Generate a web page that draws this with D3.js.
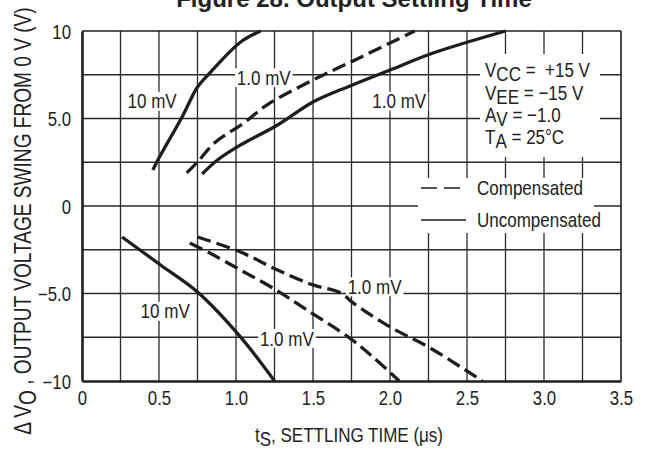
<!DOCTYPE html>
<html>
<head>
<meta charset="utf-8">
<script src="https://cdn.jsdelivr.net/npm/d3@7"></script>
<style>
  html, body { margin: 0; padding: 0; background: #fff; }
  svg { display: block; }
  text { font-family: 'Liberation Sans', Arial, Helvetica, sans-serif; fill: #222; }
</style>
</head>
<body>
<svg id="chart" width="646" height="449"></svg>
<script>
// ---------- data ----------
const xTickValues = [0, 0.5, 1.0, 1.5, 2.0, 2.5, 3.0, 3.5];
const xTickLabels = ["0", "0.5", "1.0", "1.5", "2.0", "2.5", "3.0", "3.5"];
const yTickValues = [-10, -5, 0, 5, 10];
const yTickLabels = ["\u221210", "\u22125.0", "0", "5.0", "10"];

// settling time (µs) vs output swing (V)
const pos10mVUncompX = [0.46, 0.51, 0.65, 0.75, 0.83, 1.03, 1.16];
const pos10mVUncompY = [2.06, 2.91, 5.09, 6.8, 7.6, 9.37, 10.0];

const pos1mVCompX = [0.68, 0.75, 0.86, 1.05, 1.2, 1.5, 1.76, 2.16];
const pos1mVCompY = [1.89, 2.51, 3.6, 4.74, 5.77, 7.2, 8.29, 10.0];

const pos1mVUncompX = [0.78, 0.88, 1.03, 1.27, 1.5, 1.74, 2.0, 2.28, 2.75];
const pos1mVUncompY = [1.83, 2.63, 3.49, 4.63, 5.94, 6.86, 7.77, 8.74, 10.0];

const neg10mVUncompX = [0.26, 0.51, 0.75, 1.03, 1.25];
const neg10mVUncompY = [-1.77, -3.37, -4.91, -7.49, -10.0];

const neg1mVCompAX = [0.70, 0.83, 1.03, 1.24, 1.46, 1.73, 1.89, 2.06];
const neg1mVCompAY = [-2.11, -2.69, -3.66, -4.69, -5.94, -7.49, -8.63, -10.0];

const neg1mVCompBX = [0.75, 1.03, 1.27, 1.5, 1.68, 1.76, 2.0, 2.26, 2.6];
const neg1mVCompBY = [-1.77, -2.63, -3.66, -4.51, -4.97, -5.54, -6.91, -8.11, -10.0];

const seriesNames = ["pos10mVUncomp", "pos1mVComp", "pos1mVUncomp", "neg10mVUncomp", "neg1mVCompA", "neg1mVCompB"];
const seriesDashed = [false, true, false, false, true, true];

const curveLabels = ["10 mV", "1.0 mV", "1.0 mV", "10 mV", "1.0 mV", "1.0 mV"];
const conditionLines = [["V", "CC", " =\u00A0 +15 V"], ["V", "EE", " = \u221215 V"], ["A", "V", " = \u22121.0"], ["T", "A", " = 25\u00B0C"]];
const legendLabels = ["Compensated", "Uncompensated"];

// ---------- layout ----------
const svg = d3.select("#chart");
const L = { left: 82, right: 621, top: 31, bottom: 381 };
const x = d3.scaleLinear().domain([0, 3.5]).range([L.left, L.right]);
const y = d3.scaleLinear().domain([-10, 10]).range([L.bottom, L.top]);

const ink = "#1e1e1e";
const gridColor = "#2a2a2a";
const SX = 0.83;      // condensed look
const FS = 20.5;

// grid
const gx = svg.append("g");
gx.selectAll("line.v").data(d3.range(1, 14).map(i => i * 0.25)).join("line")
  .attr("x1", d => x(d)).attr("x2", d => x(d))
  .attr("y1", L.top).attr("y2", L.bottom)
  .attr("stroke", gridColor).attr("stroke-width", 1.3);
gx.selectAll("line.h").data(d3.range(1, 8).map(i => -10 + i * 2.5)).join("line")
  .attr("x1", L.left).attr("x2", L.right)
  .attr("y1", d => y(d)).attr("y2", d => y(d))
  .attr("stroke", gridColor).attr("stroke-width", 1.3);

// frame
svg.append("line").attr("x1", L.left).attr("x2", L.right).attr("y1", L.top).attr("y2", L.top).attr("stroke", ink).attr("stroke-width", 1.6);
svg.append("line").attr("x1", L.right).attr("x2", L.right).attr("y1", L.top).attr("y2", L.bottom).attr("stroke", ink).attr("stroke-width", 1.6);

// axes with d3
const xAxis = d3.axisBottom(x).tickValues(xTickValues).tickFormat((d, i) => xTickLabels[i]).tickSize(0);
const yAxis = d3.axisLeft(y).tickValues(yTickValues).tickFormat((d, i) => yTickLabels[i]).tickSize(0);
const xa = svg.append("g").attr("transform", `translate(0,${L.bottom})`).call(xAxis);
const ya = svg.append("g").attr("transform", `translate(${L.left},0)`).call(yAxis);
[xa, ya].forEach(a => {
  a.select(".domain").attr("stroke", ink).attr("stroke-width", 2.6);
  a.selectAll("text").attr("font-size", 19.5).attr("fill", "#222")
    .attr("font-family", "'Liberation Sans', Arial, sans-serif");
});
xa.selectAll("text").attr("x", 0).attr("y", 0).attr("dy", null)
  .attr("transform", "translate(0,24) scale(0.86,1)");
ya.selectAll("text").attr("x", 0).attr("y", 0).attr("dy", "0.36em")
  .attr("transform", "translate(-11,0) scale(0.86,1)");

// white boxes (conditions and legend)
svg.append("rect").attr("x", 480).attr("y", 54).attr("width", 120).attr("height", 103).attr("fill", "#fff");
svg.append("rect").attr("x", 418).attr("y", 178).attr("width", 176).attr("height", 55).attr("fill", "#fff");

// curve labels (positions in data coordinates)
const labelPos = [[0.455, 6.0], [1.18, 7.35], [2.06, 6.0], [0.54, -6.0], [1.33, -7.55], [1.9, -4.6]];
const labG = svg.append("g");
curveLabels.forEach((t, i) => {
  const g = labG.append("g").attr("transform", `translate(${x(labelPos[i][0])},${y(labelPos[i][1])}) scale(${SX},1)`);
  const tx = g.append("text").attr("text-anchor", "middle").attr("dy", "0.36em").attr("font-size", FS).text(t);
  const b = tx.node().getBBox();
  g.insert("rect", "text").attr("x", b.x - 2).attr("y", b.y + 2).attr("width", b.width + 4).attr("height", b.height - 4).attr("fill", "#fff");
});

// curves
const seriesX = [pos10mVUncompX, pos1mVCompX, pos1mVUncompX, neg10mVUncompX, neg1mVCompAX, neg1mVCompBX];
const seriesY = [pos10mVUncompY, pos1mVCompY, pos1mVUncompY, neg10mVUncompY, neg1mVCompAY, neg1mVCompBY];
const line = d3.line().x(d => x(d[0])).y(d => y(d[1])).curve(d3.curveCatmullRom.alpha(0.5));
seriesNames.forEach((name, i) => {
  const pts = seriesX[i].map((v, j) => [v, seriesY[i][j]]);
  svg.append("path").attr("class", name).attr("d", line(pts))
    .attr("fill", "none").attr("stroke", ink).attr("stroke-width", 3.3)
    .attr("stroke-linecap", "butt")
    .attr("stroke-dasharray", seriesDashed[i] ? "14,6" : null);
});

// conditions text
const condBase = [77, 100, 122, 144];
conditionLines.forEach((parts, i) => {
  const t = svg.append("text").attr("transform", `translate(485,${condBase[i]}) scale(${SX},1)`).attr("font-size", FS);
  t.append("tspan").text(parts[0]);
  t.append("tspan").attr("dy", 4).text(parts[1]);
  t.append("tspan").attr("dy", -4).text(parts[2]);
});

// legend
const legY = [188, 220];
legendLabels.forEach((t, i) => {
  svg.append("line").attr("x1", 421).attr("x2", 466).attr("y1", legY[i]).attr("y2", legY[i])
    .attr("stroke", ink).attr("stroke-width", 1.4)
    .attr("stroke-dasharray", seriesDashed[i === 0 ? 1 : 0] ? "16,7" : null);
  svg.append("text").attr("transform", `translate(477,${legY[i]}) scale(${SX},1)`)
    .attr("dy", "0.36em").attr("font-size", FS).text(t);
});

// title (partially cut off at top, as in the reference)
svg.append("text").attr("x", 354).attr("y", 7).attr("text-anchor", "middle")
  .attr("font-weight", "bold").attr("font-size", 24).text("Figure 28. Output Settling Time");

// axis titles
const xt = svg.append("text").attr("transform", `translate(349,442) scale(${SX},1)`).attr("text-anchor", "middle").attr("font-size", FS);
xt.append("tspan").text("t");
xt.append("tspan").attr("dy", 4).text("S");
xt.append("tspan").attr("dy", -4).text(", SETTLING TIME (\u03BCs)");

const yt = svg.append("text").attr("transform", `translate(31,221) rotate(-90) scale(${SX},1)`).attr("text-anchor", "middle").attr("font-size", 23);
yt.append("tspan").text("\u0394 V");
yt.append("tspan").attr("dy", 5).text("O");
yt.append("tspan").attr("dy", -5).text(" , OUTPUT VOLTAGE SWING FROM 0 V (V)");
</script>
</body>
</html>
